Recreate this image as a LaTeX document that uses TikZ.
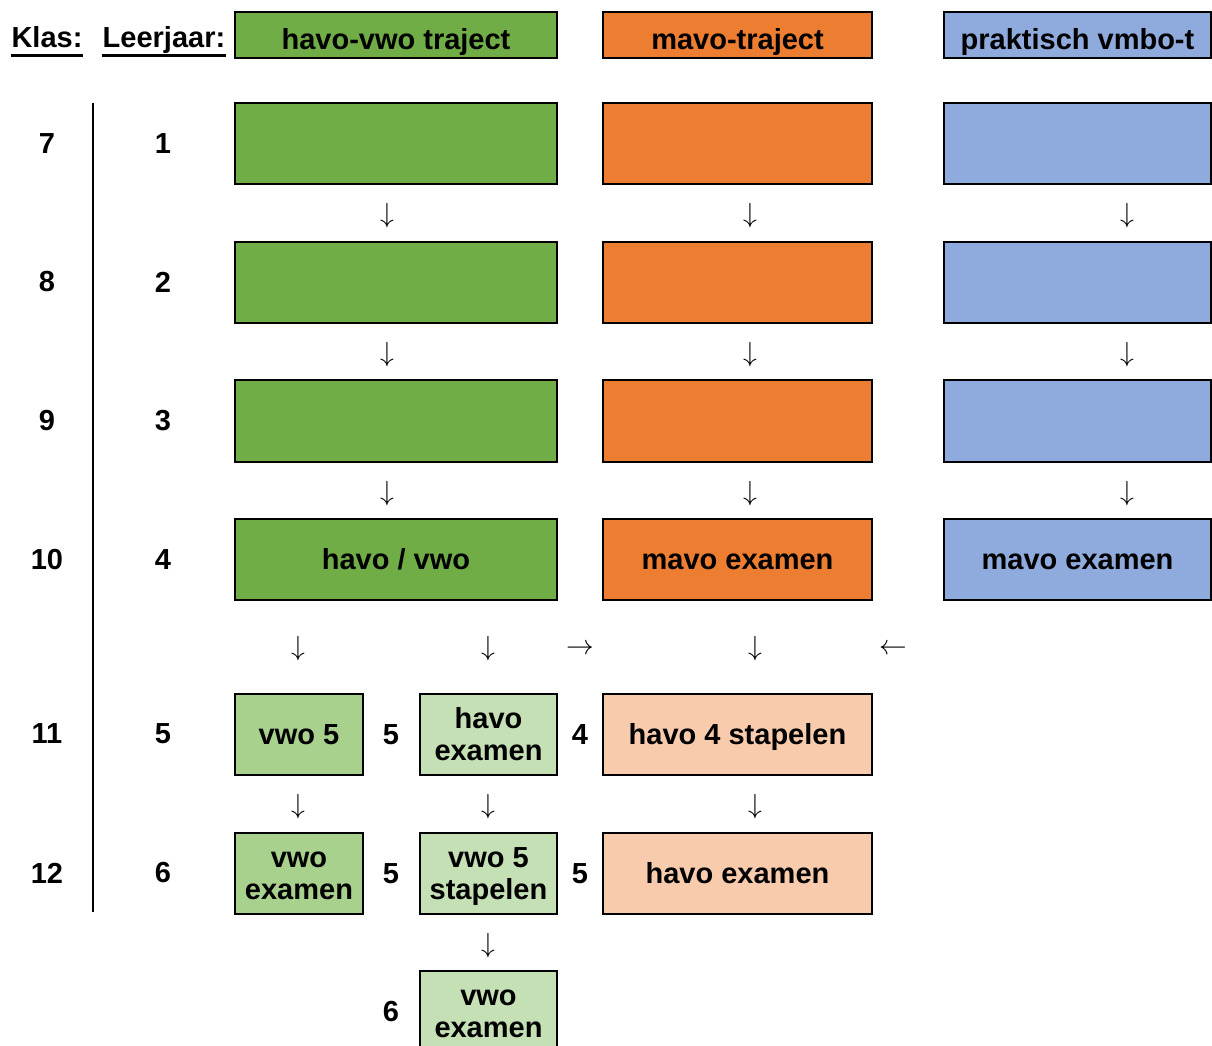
\documentclass[tikz,border=0pt]{standalone}
\usepackage{fontspec}
\setmainfont{Liberation Sans}
\usetikzlibrary{fit}
\definecolor{gA}{HTML}{70AD47}
\definecolor{oA}{HTML}{ED7D31}
\definecolor{bA}{HTML}{8FAADC}
\definecolor{gB}{HTML}{A9D18E}
\definecolor{gC}{HTML}{C5E0B4}
\definecolor{oB}{HTML}{F8CBAD}
\newcommand{\lns}{\rule[-0.212em]{0pt}{1.117em}}
\begin{document}
\begin{tikzpicture}[x=0.75pt,y=-0.75pt,
  lbl/.style={font=\fontsize{21.75}{24.4}\selectfont\bfseries, inner sep=0},
  box/.style={draw=black, line width=1.2pt, inner sep=0},
  btxt/.style={font=\fontsize{21.75}{24.4}\selectfont\bfseries, inner sep=0, align=center},
  arr/.style={font=\fontsize{20}{20}\selectfont, inner sep=0}]
\useasboundingbox (0,0) rectangle (1212,1045);
\begin{scope}
\clip (0,0) rectangle (1212,1045);
% header
\node[lbl, anchor=base] (klas) at (47,48) {Klas:};
\node[lbl, anchor=base] (leer) at (164,48) {Leerjaar:};
\draw[line width=2.2pt] ([yshift=-5.5pt]klas.base west) -- ([yshift=-5.5pt]klas.base east);
\draw[line width=2.2pt] ([yshift=-5.5pt]leer.base west) -- ([yshift=-5.5pt]leer.base east);
\node[box, fill=gA, fit={(235,12)(557,58)}] (hg) {};
\node[box, fill=oA, fit={(603,12)(872,58)}] (ho) {};
\node[box, fill=bA, fit={(944,12)(1211,58)}] (hb) {};
\node[btxt] (hgt) at ([yshift=-3.4pt]hg.center) {\lns havo-vwo traject};
\node[btxt] (hot) at ([yshift=-3.4pt]ho.center) {\lns mavo-traject};
\node[btxt] (hbt) at ([yshift=-3.4pt]hb.center) {\lns praktisch vmbo-t};
% vertical line
\coordinate (vt) at (93,103);
\coordinate (vb) at (93,912);
\draw[line width=1.2pt] (vt) -- (vb);
% row labels
\node[lbl] (k7) at (47,144) {7};
\node[lbl] (k8) at (47,282) {8};
\node[lbl] (k9) at (47,421) {9};
\node[lbl] (k10) at (47,560) {10};
\node[lbl] (k11) at (47,734) {11};
\node[lbl] (k12) at (47,873) {12};
\node[lbl] (l1) at (163,144) {1};
\node[lbl] (l2) at (163,282) {2};
\node[lbl] (l3) at (163,421) {3};
\node[lbl] (l4) at (163,560) {4};
\node[lbl] (l5) at (163,734) {5};
\node[lbl] (l6) at (163,873) {6};
% rows 1-4
\node[box, fill=gA, fit={(235,103)(557,184)}] (g1) {};
\node[box, fill=oA, fit={(603,103)(872,184)}] (o1) {};
\node[box, fill=bA, fit={(944,103)(1211,184)}] (b1) {};
\node[box, fill=gA, fit={(235,242)(557,323)}] (g2) {};
\node[box, fill=oA, fit={(603,242)(872,323)}] (o2) {};
\node[box, fill=bA, fit={(944,242)(1211,323)}] (b2) {};
\node[box, fill=gA, fit={(235,380)(557,462)}] (g3) {};
\node[box, fill=oA, fit={(603,380)(872,462)}] (o3) {};
\node[box, fill=bA, fit={(944,380)(1211,462)}] (b3) {};
\node[box, fill=gA, fit={(235,519)(557,600)}] (g4) {};
\node[box, fill=oA, fit={(603,519)(872,600)}] (o4) {};
\node[box, fill=bA, fit={(944,519)(1211,600)}] (b4) {};
\node[btxt] (g4t) at (g4.center) {\lns havo / vwo};
\node[btxt] (o4t) at (o4.center) {\lns mavo examen};
\node[btxt] (b4t) at (b4.center) {\lns mavo examen};
% rows 5-7
\node[box, fill=gB, fit={(235,694)(363,775)}] (v5) {};
\node[box, fill=gC, fit={(420,694)(557,775)}] (he) {};
\node[box, fill=oB, fit={(603,694)(872,775)}] (h4s) {};
\node[box, fill=gB, fit={(235,833)(363,914)}] (ve) {};
\node[box, fill=gC, fit={(420,833)(557,914)}] (v5s) {};
\node[box, fill=oB, fit={(603,833)(872,914)}] (hex) {};
\node[box, fill=gC, fit={(420,971)(557,1052)}] (ve2) {};
\node[btxt] (v5t) at (v5.center) {\lns vwo 5};
\node[btxt] (het) at (he.center) {\lns havo\\\lns examen};
\node[btxt] (h4st) at (h4s.center) {\lns havo 4 stapelen};
\node[btxt] (vet) at (ve.center) {\lns vwo\\\lns examen};
\node[btxt] (v5st) at (v5s.center) {\lns vwo 5\\\lns stapelen};
\node[btxt] (hext) at (hex.center) {\lns havo examen};
\node[btxt] (ve2t) at (ve2.center) {\lns vwo\\\lns examen};
% inner numbers
\node[lbl] (n5a) at (391,735) {5};
\node[lbl] (n4a) at (580,735) {4};
\node[lbl] (n5b) at (391,874) {5};
\node[lbl] (n5c) at (580,874) {5};
\node[lbl] (n6a) at (391,1012) {6};
% arrows (glyphs)
\foreach \yy/\nm in {216/a,355/b,494/c}{
  \node[arr] (ag\nm) at (387,\yy) {$\downarrow$};
  \node[arr] (ao\nm) at (750,\yy) {$\downarrow$};
  \node[arr] (ab\nm) at (1127,\yy) {$\downarrow$};
}
\node[arr] (ad1) at (298,649) {$\downarrow$};
\node[arr] (ad2) at (488,649) {$\downarrow$};
\node[arr] (ar1) at (580,649) {$\rightarrow$};
\node[arr] (ad3) at (755,649) {$\downarrow$};
\node[arr] (al1) at (893,649) {$\leftarrow$};
\node[arr] (ae1) at (298,807) {$\downarrow$};
\node[arr] (ae2) at (488,807) {$\downarrow$};
\node[arr] (ae3) at (755,807) {$\downarrow$};
\node[arr] (af1) at (488,946) {$\downarrow$};
\end{scope}
\end{tikzpicture}
\end{document}
